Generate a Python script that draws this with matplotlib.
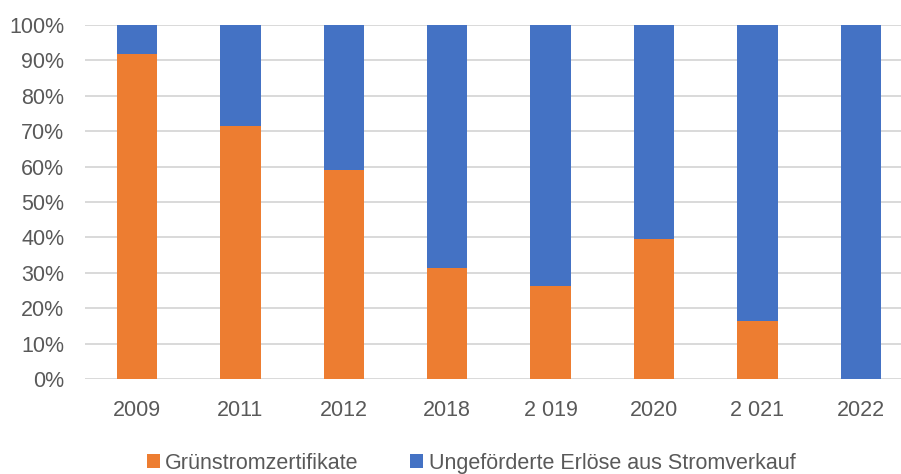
import matplotlib.pyplot as plt
import numpy as np

# ==============================
# DATA
# ==============================

years = ['2009', '2011', '2012', '2018', '2 019', '2020', '2 021', '2022']
gruenstrom = [91.7, 71.4, 59.1, 31.3, 26.3, 39.6, 16.4, 0.0]
strom = [100 - v for v in gruenstrom]

orange = '#ED7D31'
blue = '#4472C4'
grey_txt = '#595959'

plt.rcParams['font.family'] = ['Liberation Sans', 'DejaVu Sans']

fig = plt.figure(figsize=(9.01, 4.74), dpi=100)
ax = fig.add_axes([0.0947, 0.1998, 0.918, 0.748])

x = np.arange(len(years))
ax.bar(x, gruenstrom, width=0.39, color=orange, label='Grünstromzertifikate', zorder=3)
ax.bar(x, strom, width=0.39, bottom=gruenstrom, color=blue,
       label='Ungeförderte Erlöse aus Stromverkauf', zorder=3)

ax.set_xlim(-0.5, len(years) - 0.5)
ax.set_ylim(0, 100)
ax.set_yticks(range(0, 101, 10))
ax.set_yticklabels([f'{v}%' for v in range(0, 101, 10)])
ax.set_xticks(x)
ax.set_xticklabels(years)

ax.grid(axis='y', color='#D9D9D9', linewidth=1.4, zorder=0)
for s in ax.spines.values():
    s.set_visible(False)
ax.tick_params(axis='both', length=0, colors=grey_txt, labelsize=15.5)
ax.tick_params(axis='x', pad=15)
ax.tick_params(axis='y', pad=15)

fig.legend(loc='center', bbox_to_anchor=(0.523, 0.023), ncol=2, frameon=False,
           fontsize=15.5, labelcolor=grey_txt,
           handlelength=0.6, handleheight=0.6,
           handletextpad=0.25, columnspacing=2.4)

plt.savefig('out.png', dpi=100)
